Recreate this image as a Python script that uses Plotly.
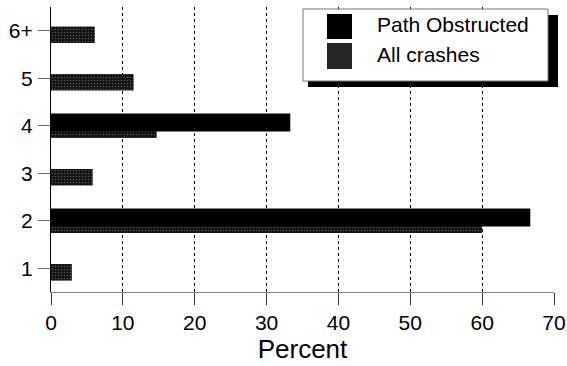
import plotly.graph_objects as go

categories = ["1", "2", "3", "4", "5", "6+"]
path_obstructed = [0, 66.7, 0, 33.3, 0, 0]
all_crashes = [2.9, 60.0, 5.8, 14.7, 11.5, 6.1]
x_ticks = [0, 10, 20, 30, 40, 50, 60, 70]
series_names = ["Path Obstructed", "All crashes"]

W, H = 567, 366
L, R, T, B = 51, 13, 7, 74
PW, PH = W - L - R, H - T - B

def px(x):
    return (x - L) / PW

def py(y):
    return (H - B - y) / PH

FONT = "Liberation Sans, Arial, sans-serif"

fig = go.Figure()
fig.add_trace(go.Bar(
    y=categories, x=all_crashes, orientation="h", name=series_names[1],
    offset=-0.26, width=0.35,
    marker=dict(color="#111111", line=dict(width=0),
                pattern=dict(shape=".", fgcolor="#8a8a8a", bgcolor="#111111",
                             size=3, solidity=0.25)),
    showlegend=False, hoverinfo="skip",
))
fig.add_trace(go.Bar(
    y=categories, x=path_obstructed, orientation="h", name=series_names[0],
    offset=-0.12, width=0.379,
    marker=dict(color="#000000", line=dict(width=0)),
    showlegend=False, hoverinfo="skip",
))

shapes = [
    dict(type="rect", xref="paper", yref="paper", x0=px(308), x1=px(558), y0=py(87), y1=py(15),
         fillcolor="black", line=dict(width=0), layer="above"),
    dict(type="rect", xref="paper", yref="paper", x0=px(303), x1=px(548), y0=py(81), y1=py(9),
         fillcolor="white", line=dict(color="#777777", width=1), layer="above"),
    dict(type="rect", xref="paper", yref="paper", x0=px(327), x1=px(352), y0=py(39), y1=py(14),
         fillcolor="black", line=dict(width=0), layer="above"),
    dict(type="rect", xref="paper", yref="paper", x0=px(327), x1=px(352), y0=py(69), y1=py(43),
         fillcolor="#262626", line=dict(width=0), layer="above"),
]
annotations = [
    dict(xref="paper", yref="paper", x=px(375), y=py(25), text=series_names[0], showarrow=False,
         xanchor="left", yanchor="middle", font=dict(family=FONT, size=21, color="black")),
    dict(xref="paper", yref="paper", x=px(375), y=py(55), text=series_names[1], showarrow=False,
         xanchor="left", yanchor="middle", font=dict(family=FONT, size=21, color="black")),
]

fig.update_layout(
    width=W, height=H,
    margin=dict(l=L, r=R, t=T, b=B),
    paper_bgcolor="white", plot_bgcolor="white",
    barmode="overlay",
    font=dict(family=FONT, size=21, color="black"),
    shapes=shapes, annotations=annotations,
    showlegend=False,
)
fig.update_xaxes(
    range=[0, 70], tickvals=x_ticks, ticks="outside", ticklen=12, tickcolor="#333333",
    showline=True, linecolor="#888888", linewidth=1,
    showgrid=True, gridcolor="black", griddash="dot", gridwidth=1,
    zeroline=False, title=dict(text="Percent", font=dict(size=26), standoff=2),
    tickfont=dict(size=21), automargin=False,
)
fig.update_yaxes(
    type="category", categoryorder="array", categoryarray=categories,
    range=[-0.5, 5.5], ticks="outside", ticklen=12, tickcolor="#666666",
    showline=True, linecolor="black", linewidth=1, showgrid=False, zeroline=False,
    tickfont=dict(size=21), ticklabelstandoff=1, automargin=False,
)

fig.write_html(
    "out.html",
    config={"displayModeBar": False},
    post_script="document.body.style.margin='0';document.body.style.overflow='hidden';",
)
